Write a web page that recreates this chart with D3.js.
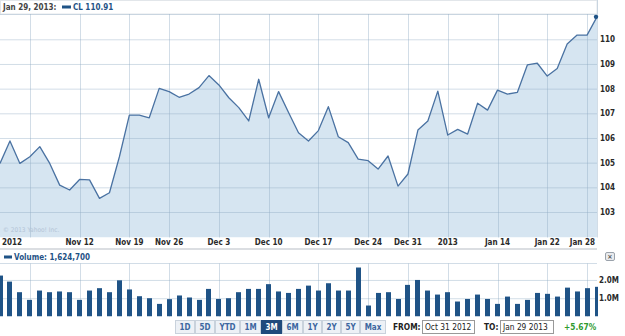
<!DOCTYPE html>
<html>
<head>
<meta charset="utf-8">
<script src="https://cdnjs.cloudflare.com/ajax/libs/d3/7.8.5/d3.min.js"></script>
<style>
  body { margin: 0; background: #fff; }
  text { font-family: "DejaVu Sans Condensed", "DejaVu Sans", sans-serif; font-stretch: condensed; }
</style>
</head>
<body>
<div id="chart"></div>
<script>
// CL daily closes, Oct 31 2012 .. Jan 29 2013 (one per trading day)
var closes = [104.97, 105.88, 104.97, 105.24, 105.65, 104.97, 104.09, 103.89, 104.32, 104.30,
  103.55, 103.78, 105.24, 106.93, 106.93, 106.82, 108.01, 107.88, 107.65, 107.78,
  108.04, 108.53, 108.15, 107.63, 107.23, 106.69, 108.38, 106.82, 107.88, 107.03,
  106.21, 105.88, 106.30, 107.27, 106.05, 105.81, 105.14, 105.08, 104.74, 105.27,
  104.05, 104.54, 106.32, 106.69, 107.90, 106.12, 106.35, 106.16, 107.41, 107.13,
  107.94, 107.78, 107.85, 108.96, 109.03, 108.51, 108.82, 109.81, 110.17, 110.17,
  110.91];
// volume, millions
var volumes = [2.24, 1.91, 1.33, 0.91, 1.42, 1.33, 1.37, 1.33, 0.91, 1.42,
  1.55, 1.33, 1.98, 1.48, 1.11, 1.00, 0.69, 0.95, 1.15, 1.04,
  0.91, 1.51, 0.96, 1.00, 1.33, 1.51, 1.51, 1.77, 1.37, 1.29,
  1.51, 1.69, 1.42, 1.82, 1.42, 1.42, 2.68, 0.60, 1.29, 1.33,
  0.96, 1.73, 2.00, 1.42, 1.20, 1.33, 0.82, 0.96, 1.20, 0.96,
  0.69, 1.09, 0.69, 0.91, 1.29, 1.24, 1.09, 1.58, 1.37, 1.55,
  1.6247];

var gridDays = [3, 8, 13, 17, 22, 27, 32, 37, 41, 45, 50, 55, 59];
var labelDays = [0, 8, 13, 17, 22, 27, 32, 37, 41, 45, 50, 55, 59];
var labelText = ["2012", "Nov 12", "Nov 19", "Nov 26", "Dec 3", "Dec 10", "Dec 17",
  "Dec 24", "Dec 31", "2013", "Jan 14", "Jan 22", "Jan 28"];
var priceTicks = [103, 104, 105, 106, 107, 108, 109, 110];
var volumeTicks = [1, 2];
var ranges = ["1D", "5D", "YTD", "1M", "3M", "6M", "1Y", "2Y", "5Y", "Max"];
var selectedRange = "3M";
var symbol = "CL";
var lastDate = "Jan 29, 2013:";
var fromDate = "Oct 31 2012";
var toDate = "Jan 29 2013";
var change = "+5.67%";

var width = 625, height = 336;
var plotRight = 597, plotTop = 14, plotBottom = 237.5;
var volTop = 263.5, volBottom = 316.5;
var darkBlue = "#1f5386", lineBlue = "#4a72a2", fillBlue = "#d6e5f1";
var gridColor = "#8fa9c4", labelColor = "#2a2a2a";
var fs = 8;

var svg = d3.select("#chart")
  .append("svg")
  .attr("width", width)
  .attr("height", height)
  .style("display", "block");

var x = d3.scaleLinear().domain([0, closes.length - 1]).range([0, plotRight]);
var y = d3.scaleLinear().domain([103, 110]).range([212, 39.3]);
var yv = d3.scaleLinear().domain([0, 2.9]).range([volBottom, volTop]);

function px(v) { return Math.round(v) + 0.5; }

// header box
svg.append("rect")
  .attr("x", 0.5).attr("y", 0.5)
  .attr("width", plotRight - 0.5).attr("height", plotTop - 0.5)
  .attr("fill", "#fff").attr("stroke", "#e2e6ea");

svg.append("text")
  .attr("x", 3).attr("y", 10.3)
  .attr("font-size", fs).attr("font-weight", "bold")
  .attr("fill", "#444")
  .text(lastDate);
svg.append("rect")
  .attr("x", 62).attr("y", 5.5).attr("width", 9).attr("height", 3)
  .attr("fill", darkBlue);
svg.append("text")
  .attr("x", 73).attr("y", 10.3)
  .attr("font-size", fs).attr("font-weight", "bold")
  .attr("fill", darkBlue)
  .text(symbol + " " + d3.format(".2f")(closes[closes.length - 1]));

// price pane
svg.append("clipPath").attr("id", "plotclip")
  .append("rect")
  .attr("x", 0).attr("y", plotTop)
  .attr("width", plotRight).attr("height", plotBottom - plotTop);

var area = d3.area()
  .x(function(d, i) { return x(i); })
  .y0(plotBottom)
  .y1(function(d) { return y(d); });

var line = d3.line()
  .x(function(d, i) { return x(i); })
  .y(function(d) { return y(d); });

svg.append("path")
  .datum(closes)
  .attr("d", area)
  .attr("fill", fillBlue)
  .attr("clip-path", "url(#plotclip)");

// grid on top of the fill, semi transparent so it darkens inside the area
var yAxis = d3.axisRight(y)
  .tickValues(priceTicks)
  .tickSize(-plotRight)
  .tickPadding(3)
  .tickFormat(d3.format("d"));

var gy = svg.append("g")
  .attr("class", "y_axis")
  .attr("transform", "translate(" + plotRight + ",0)")
  .call(yAxis);
gy.select(".domain").remove();
gy.selectAll(".tick line")
  .attr("stroke", gridColor).attr("stroke-opacity", 0.4);
gy.selectAll(".tick text")
  .attr("font-size", fs).attr("font-weight", "bold")
  .attr("fill", labelColor)
  .attr("font-family", null);

svg.append("g")
  .selectAll("line")
  .data(gridDays)
  .enter()
  .append("line")
  .attr("x1", function(d) { return px(x(d)); })
  .attr("x2", function(d) { return px(x(d)); })
  .attr("y1", plotTop).attr("y2", plotBottom)
  .attr("stroke", gridColor).attr("stroke-opacity", 0.4);

svg.append("line")
  .attr("x1", 0).attr("x2", plotRight)
  .attr("y1", plotTop + 0.5).attr("y2", plotTop + 0.5)
  .attr("stroke", gridColor).attr("stroke-opacity", 0.4);
svg.append("line")
  .attr("x1", plotRight + 0.5).attr("x2", plotRight + 0.5)
  .attr("y1", 0).attr("y2", plotBottom)
  .attr("stroke", gridColor).attr("stroke-opacity", 0.4);

svg.append("path")
  .datum(closes)
  .attr("d", line)
  .attr("fill", "none")
  .attr("stroke", lineBlue)
  .attr("stroke-width", 1.3)
  .attr("stroke-linejoin", "round");

svg.append("circle")
  .attr("cx", x(closes.length - 1) - 1)
  .attr("cy", y(closes[closes.length - 1]))
  .attr("r", 2.2)
  .attr("fill", darkBlue);

svg.append("text")
  .attr("x", 3).attr("y", 232)
  .attr("font-size", 6.5)
  .attr("fill", "#b3c4d6")
  .text("\u00a9 2013 Yahoo! Inc.");

// x labels, kept inside the plot width
svg.append("g")
  .attr("class", "x_axis")
  .selectAll("text")
  .data(labelDays)
  .enter()
  .append("text")
  .attr("y", 245.3)
  .attr("font-size", fs).attr("font-weight", "bold")
  .attr("fill", labelColor)
  .text(function(d, i) { return labelText[i]; })
  .attr("x", function(d) {
    var w = this.getComputedTextLength();
    var left = x(d) - w / 2;
    if (left < 2) left = 2;
    if (left + w > plotRight - 2) left = plotRight - 2 - w;
    return left;
  });

// volume pane
svg.append("line")
  .attr("x1", 0).attr("x2", plotRight)
  .attr("y1", 249).attr("y2", 249)
  .attr("stroke", "#cfd3d8").attr("stroke-width", 1.5);

svg.append("rect")
  .attr("x", 4).attr("y", 255.5).attr("width", 8).attr("height", 3)
  .attr("fill", darkBlue);
svg.append("text")
  .attr("x", 14).attr("y", 260.3)
  .attr("font-size", fs).attr("font-weight", "bold")
  .attr("fill", darkBlue)
  .text("Volume: " + d3.format(",")(Math.round(volumes[volumes.length - 1] * 1e6)));

// close box
svg.append("rect")
  .attr("x", 605.5).attr("y", 252.5).attr("width", 9).attr("height", 8)
  .attr("rx", 1.5)
  .attr("fill", "#e9ebee").attr("stroke", "#9aa2ab");
svg.append("text")
  .attr("x", 610).attr("y", 259.3)
  .attr("text-anchor", "middle")
  .attr("font-size", 7).attr("font-weight", "bold")
  .attr("fill", "#555")
  .text("\u00d7");

var vAxis = d3.axisRight(yv)
  .tickValues(volumeTicks)
  .tickSize(-plotRight)
  .tickPadding(2)
  .tickFormat(function(d) { return d3.format(".1f")(d) + "M"; });

var gv = svg.append("g")
  .attr("transform", "translate(" + plotRight + ",0)")
  .call(vAxis);
gv.select(".domain").remove();
gv.selectAll(".tick line")
  .attr("stroke", gridColor).attr("stroke-opacity", 0.4);
gv.selectAll(".tick text")
  .attr("font-size", fs).attr("font-weight", "bold")
  .attr("fill", labelColor)
  .attr("font-family", null);

svg.append("line")
  .attr("x1", 0).attr("x2", plotRight)
  .attr("y1", volTop).attr("y2", volTop)
  .attr("stroke", gridColor).attr("stroke-opacity", 0.4);

svg.append("g")
  .selectAll("line")
  .data(gridDays)
  .enter()
  .append("line")
  .attr("x1", function(d) { return px(x(d)); })
  .attr("x2", function(d) { return px(x(d)); })
  .attr("y1", volTop).attr("y2", volBottom)
  .attr("stroke", gridColor).attr("stroke-opacity", 0.4);

svg.append("clipPath").attr("id", "volclip")
  .append("rect")
  .attr("x", 0).attr("y", volTop)
  .attr("width", plotRight + 1).attr("height", volBottom - volTop);

svg.append("g")
  .attr("clip-path", "url(#volclip)")
  .selectAll(".bar")
  .data(volumes)
  .enter()
  .append("rect")
  .attr("class", "bar")
  .attr("x", function(d, i) { return Math.round(x(i) - 2.5); })
  .attr("width", 5)
  .attr("y", function(d) { return yv(d); })
  .attr("height", function(d) { return volBottom - yv(d); })
  .attr("fill", darkBlue);

// range buttons
var bx = 175.5;
var buttons = svg.append("g").attr("class", "ranges");
ranges.forEach(function(r) {
  var g = buttons.append("g");
  var t = g.append("text")
    .attr("y", 330)
    .attr("font-size", fs).attr("font-weight", "bold")
    .attr("text-anchor", "middle")
    .attr("fill", r == selectedRange ? "#fff" : "#3d67a0")
    .text(r);
  var w = Math.round(t.node().getComputedTextLength() + 8);
  g.insert("rect", "text")
    .attr("x", bx).attr("y", 320.5)
    .attr("width", w).attr("height", 13)
    .attr("fill", r == selectedRange ? "#1f4a7c" : "#edf1f6")
    .attr("stroke", r == selectedRange ? "#1f4a7c" : "#c9d2dc");
  t.attr("x", bx + w / 2);
  bx += w + 1;
});

svg.append("text")
  .attr("x", 393).attr("y", 330.3)
  .attr("font-size", 8.3).attr("font-weight", "bold")
  .attr("fill", "#222")
  .text("FROM:");
svg.append("rect")
  .attr("x", 422.5).attr("y", 320.5).attr("width", 52).attr("height", 13)
  .attr("fill", "#fff").attr("stroke", "#999");
svg.append("text")
  .attr("x", 425).attr("y", 330.3)
  .attr("font-size", 8.3)
  .attr("fill", "#222")
  .text(fromDate);

svg.append("text")
  .attr("x", 484).attr("y", 330.3)
  .attr("font-size", 8.3).attr("font-weight", "bold")
  .attr("fill", "#222")
  .text("TO:");
svg.append("rect")
  .attr("x", 500.5).attr("y", 320.5).attr("width", 53).attr("height", 13)
  .attr("fill", "#fff").attr("stroke", "#999");
svg.append("text")
  .attr("x", 503).attr("y", 330.3)
  .attr("font-size", 8.3)
  .attr("fill", "#222")
  .text(toDate);

svg.append("text")
  .attr("x", 564).attr("y", 330.3)
  .attr("font-size", 8.3).attr("font-weight", "bold")
  .attr("fill", "#2f9a2f")
  .text(change);
</script>
</body>
</html>
